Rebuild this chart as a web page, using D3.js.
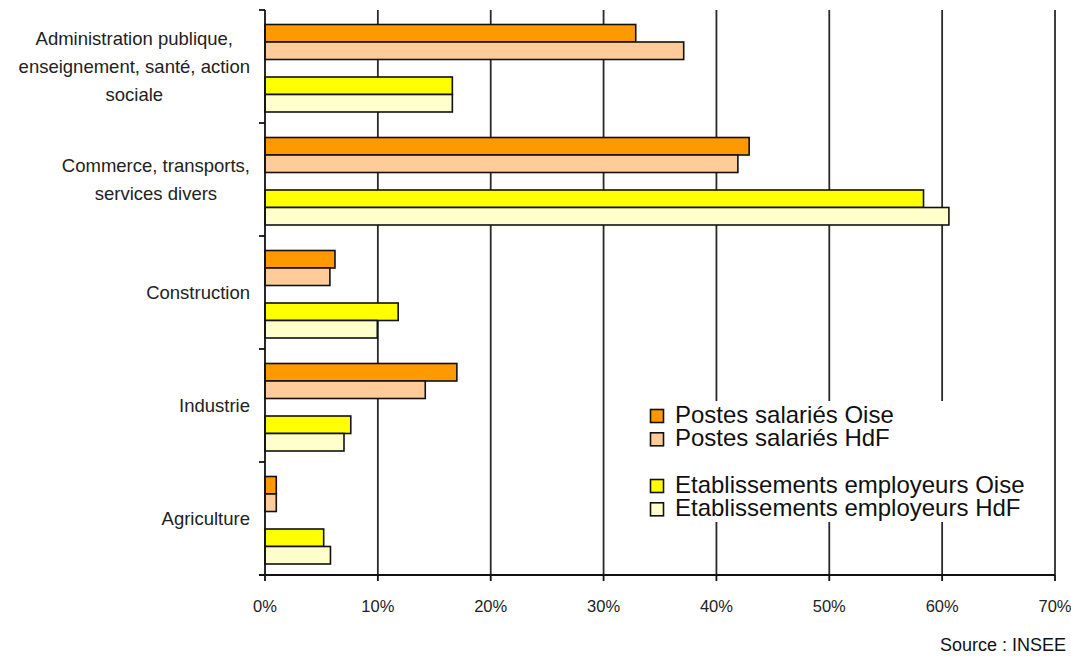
<!DOCTYPE html>
<html>
<head>
<meta charset="utf-8">
<script src="https://cdn.jsdelivr.net/npm/d3@7"></script>
<style>
  html, body { margin: 0; padding: 0; background: #fff; }
  svg { display: block; font-family: "Liberation Sans", Arial, sans-serif; }
</style>
</head>
<body>
<svg id="chart" width="1071" height="656"></svg>
<script>
// ---- Data ----
const categories = [
  ["Administration publique,", "enseignement, santé, action", "sociale"],
  ["Commerce, transports,", "services divers"],
  ["Construction"],
  ["Industrie"],
  ["Agriculture"]
];
const seriesNames = [
  "Postes salariés Oise",
  "Postes salariés HdF",
  "Etablissements employeurs Oise",
  "Etablissements employeurs HdF"
];
const postesOise = [32.85, 42.9, 6.2, 17.0, 1.0];
const postesHdF = [37.1, 41.9, 5.75, 14.2, 1.0];
const etabOise = [16.6, 58.35, 11.8, 7.6, 5.2];
const etabHdF = [16.6, 60.6, 9.95, 7.0, 5.8];
const seriesValues = [postesOise, postesHdF, etabOise, etabHdF];
const seriesColors = ["#FF9900", "#FFCC99", "#FFFF00", "#FFFFCC"];
const xTicks = [0, 10, 20, 30, 40, 50, 60, 70];
const sourceText = "Source : INSEE";

// ---- Layout ----
const svg = d3.select("#chart");
const pLeft = 265, pRight = 1055, pTop = 10, pBottom = 575;

const x = d3.scaleLinear().domain([0, 70]).range([pLeft, pRight]);
const y = d3.scaleBand().domain(d3.range(categories.length)).range([pTop, pBottom]).paddingInner(0).paddingOuter(0);
// 5 slots per group: 2 postes, one empty slot, 2 établissements
const slotIndex = [0, 1, 3, 4];
const inner = d3.scaleBand().domain(d3.range(5)).range([14.5, y.bandwidth() - 11]).padding(0);

// gridlines
svg.append("g").selectAll("line").data(xTicks.filter(t => t > 0)).join("line")
  .attr("x1", d => x(d)).attr("x2", d => x(d))
  .attr("y1", pTop).attr("y2", pBottom)
  .attr("stroke", "#2a2a2a").attr("stroke-width", 1.8);

// bars
const gBars = svg.append("g");
seriesValues.forEach((vals, s) => {
  gBars.selectAll(null).data(vals).join("rect")
    .attr("x", x(0))
    .attr("y", (d, i) => y(i) + inner(slotIndex[s]))
    .attr("width", d => x(d) - x(0))
    .attr("height", inner.bandwidth())
    .attr("fill", seriesColors[s])
    .attr("stroke", "#111").attr("stroke-width", 1.6);
});

// axes
svg.append("line").attr("x1", pLeft).attr("x2", pLeft).attr("y1", pTop).attr("y2", pBottom)
  .attr("stroke", "#111").attr("stroke-width", 1.8);
svg.append("line").attr("x1", pLeft - 6).attr("x2", pRight).attr("y1", pBottom).attr("y2", pBottom)
  .attr("stroke", "#111").attr("stroke-width", 1.8);
// y ticks at group boundaries
const bounds = d3.range(categories.length + 1).map(i => pTop + i * y.step());
svg.append("g").selectAll("line").data(bounds).join("line")
  .attr("x1", pLeft - 6).attr("x2", pLeft).attr("y1", d => d).attr("y2", d => d)
  .attr("stroke", "#111").attr("stroke-width", 1.8);
// x ticks
svg.append("g").selectAll("line").data(xTicks).join("line")
  .attr("x1", d => x(d)).attr("x2", d => x(d)).attr("y1", pBottom).attr("y2", pBottom + 6)
  .attr("stroke", "#111").attr("stroke-width", 1.8);
svg.append("g").selectAll("text").data(xTicks).join("text")
  .attr("x", d => x(d)).attr("y", 612)
  .attr("text-anchor", "middle").attr("font-size", 16.5).attr("fill", "#222")
  .text(d => d + "%");

// category labels: block right-aligned at x=250, lines centered within block
const labelRight = 250, lineH = 28.3;
categories.forEach((lines, i) => {
  const g = svg.append("g");
  const texts = lines.map((l, k) => g.append("text")
    .attr("font-size", 18.5).attr("fill", "#222").attr("text-anchor", "middle")
    .text(l));
  const maxW = d3.max(texts, t => t.node().getComputedTextLength());
  const cx = labelRight - maxW / 2;
  const cy = y(i) + y.bandwidth() / 2;
  const n = lines.length;
  texts.forEach((t, k) => {
    t.attr("x", cx).attr("y", cy + (k - (n - 1) / 2) * lineH + 6.5);
  });
});

// legend
svg.append("rect").attr("x", 622).attr("y", 401).attr("width", 422).attr("height", 121).attr("fill", "#fff");
const legendBaselines = [423, 446.3, 493, 516.3];
seriesNames.forEach((name, s) => {
  svg.append("rect").attr("x", 650.5).attr("y", legendBaselines[s] - 13.5)
    .attr("width", 13).attr("height", 13)
    .attr("fill", seriesColors[s]).attr("stroke", "#111").attr("stroke-width", 1.6);
  svg.append("text").attr("x", 675).attr("y", legendBaselines[s])
    .attr("font-size", 24).attr("fill", "#111")
    .text(name);
});

// source
svg.append("text").attr("x", 1066).attr("y", 651).attr("text-anchor", "end")
  .attr("font-size", 18).attr("fill", "#111").text(sourceText);
</script>
</body>
</html>
